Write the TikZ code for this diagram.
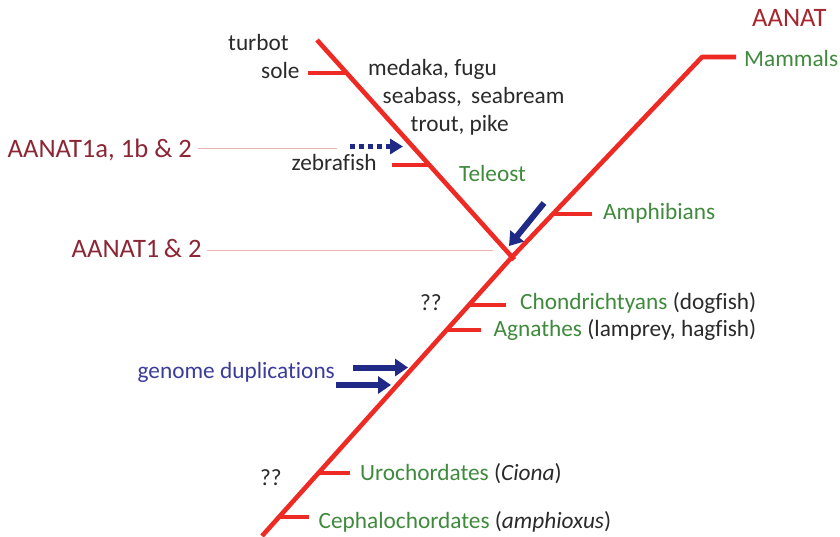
\documentclass[tikz,border=0pt]{standalone}
\usepackage{fontspec}
\setmainfont{Carlito}[Ligatures=NoCommon]
\usetikzlibrary{arrows.meta,calc}
\definecolor{treered}{HTML}{EE2A24}
\definecolor{aanatdark}{HTML}{8C2634}
\definecolor{aanatred}{HTML}{A6262E}
\definecolor{cladegreen}{HTML}{3F8A3C}
\definecolor{txtgray}{HTML}{2A2A2A}
\definecolor{dupblue}{HTML}{3A3C9C}
\definecolor{arrownavy}{HTML}{1F2A86}
\definecolor{guidepink}{HTML}{E8B4B4}
\begin{document}
\begin{tikzpicture}[x=1pt,y=-1pt,
  tree/.style={treered,line width=4.6pt},
  lbl/.style={font=\fontsize{23.3}{27}\selectfont,inner sep=0pt,anchor=base west,text=txtgray},
  clade/.style={lbl,text=cladegreen},
  aanat/.style={font=\fontsize{26.6}{31}\selectfont,inner sep=0pt,anchor=base west,text=aanatdark},
  guide/.style={guidepink,line width=0.9pt},
  bigarrow/.style={arrownavy,line width=6pt,-{Triangle[length=13pt,width=17pt]}},
  dotarrow/.style={arrownavy,line width=5pt,dash pattern=on 5pt off 4pt,-{Triangle[length=13pt,width=15pt]}}]
\useasboundingbox (0,0) rectangle (840,536);
% tree skeleton
\coordinate (root) at (262,536);
\coordinate (junc) at (512,257);
\coordinate (mamc) at (702,57);
\coordinate (mame) at (736,57);
\coordinate (teltop) at (317,40);
\draw[tree,line join=round] (root) -- (junc) -- (mamc) -- (mame);
\draw[tree] (teltop) -- ($(teltop)!1.012!(junc)$);
% stubs on teleost branch
\coordinate (soleJ) at ($(teltop)!0.152!(junc)$);
\coordinate (soleE) at ($(soleJ)+(-39,0)$);
\draw[tree] (soleE) -- (soleJ);
\coordinate (zebJ) at ($(teltop)!0.576!(junc)$);
\coordinate (zebE) at ($(zebJ)+(-37,0)$);
\draw[tree] (zebE) -- (zebJ);
% stubs on main branch
\coordinate (amphJ) at ($(junc)!0.215!(mamc)$);
\coordinate (amphE) at ($(amphJ)+(39,0)$);
\draw[tree] (amphJ) -- (amphE);
\coordinate (chJ) at ($(root)!0.828!(junc)$);
\coordinate (chE) at ($(chJ)+(37,0)$);
\draw[tree] (chJ) -- (chE);
\coordinate (agJ) at ($(root)!0.738!(junc)$);
\coordinate (agE) at ($(agJ)+(34,0)$);
\draw[tree] (agJ) -- (agE);
\coordinate (urJ) at ($(root)!0.226!(junc)$);
\coordinate (urE) at ($(urJ)+(31,0)$);
\draw[tree] (urJ) -- (urE);
\coordinate (ceJ) at ($(root)!0.068!(junc)$);
\coordinate (ceE) at ($(ceJ)+(30,0)$);
\draw[tree] (ceJ) -- (ceE);
% labels
\node[aanat,text=aanatred] (aanat) at (752,26.5) {AANAT};
\node[clade] (mammals) at (744,66) {Mammals};
\node[lbl] (turbot) at (228,50) {turbot};
\node[lbl] (sole) at (261,78) {sole};
\node[lbl] (medaka) at (368,75) {medaka, fugu};
\node[lbl] (seabass) at (382.5,103) {seabass,\, seabream};
\node[lbl] (trout) at (410.5,131.5) {trout, pike};
\node[lbl] (zebra) at (291.5,170) {zebrafish};
\node[clade] (teleost) at (459,181.5) {Teleost};
\node[clade] (amph) at (603,219.5) {Amphibians};
\node[aanat] (aanat1a) at (7.5,157.3) {AANAT1a, 1b \& 2};
\node[aanat] (aanat12) at (71.5,257.3) {AANAT1\,\& 2};
\node[lbl] (qq1) at (420,310) {??};
\node[lbl] (chond) at (520,309.5) {\textcolor{cladegreen}{Chondrichtyans} (dogfish)};
\node[lbl] (agn) at (493.5,336.5) {\textcolor{cladegreen}{Agnathes} (lamprey, hagfish)};
\node[lbl,text=dupblue] (gdup) at (137.5,378) {genome duplications};
\node[lbl] (qq2) at (260,485) {??};
\node[lbl] (uro) at (360,480) {\textcolor{cladegreen}{Urochordates} (\textit{Ciona})};
\node[lbl] (ceph) at (318.5,528.3) {\textcolor{cladegreen}{Cephalochordates} (\textit{amphioxus})};
% guide lines
\coordinate (g1s) at (198,148.5);
\coordinate (g1e) at (337,148.5);
\draw[guide] (g1s) -- (g1e);
\coordinate (g2s) at (207,250.5);
\coordinate (g2e) at (493,250.5);
\draw[guide] (g2s) -- (g2e);
% arrows
\coordinate (dA) at (350,146.5);
\coordinate (dB) at (403,146.5);
\draw[dotarrow] (dA) -- (dB);
\coordinate (tA) at (544,203);
\coordinate (tB) at (509,246);
\draw[bigarrow] (tA) -- (tB);
\coordinate (g1a) at (353,367.5);
\coordinate (g1b) at (408,367.5);
\draw[bigarrow] (g1a) -- (g1b);
\coordinate (g2a) at (336,385);
\coordinate (g2b) at (391,385);
\draw[bigarrow] (g2a) -- (g2b);
\end{tikzpicture}
\end{document}
